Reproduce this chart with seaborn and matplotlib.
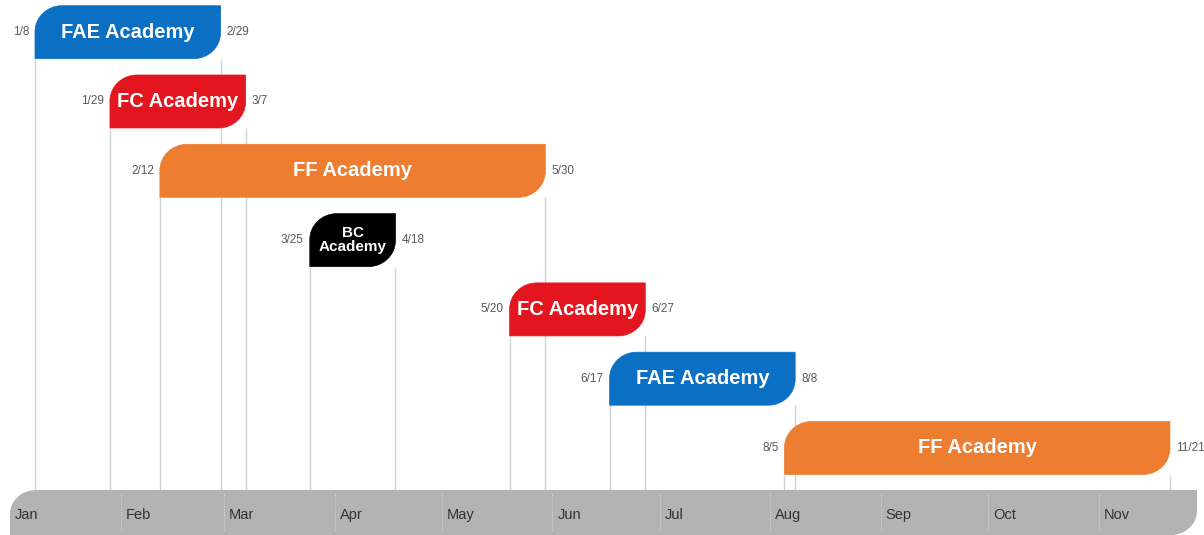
import datetime as dt
import numpy as np
import pandas as pd
import matplotlib
matplotlib.use("Agg")
import matplotlib.pyplot as plt
import seaborn as sns
from matplotlib.path import Path
from matplotlib.patches import PathPatch

# ---------------- data ----------------
programs = ["FAE Academy", "FC Academy", "FF Academy", "BC\nAcademy",
            "FC Academy", "FAE Academy", "FF Academy"]
program_kind = ["FAE", "FC", "FF", "BC", "FC", "FAE", "FF"]
start_dates = ["1/8", "1/29", "2/12", "3/25", "5/20", "6/17", "8/5"]
end_dates = ["2/29", "3/7", "5/30", "4/18", "6/27", "8/8", "11/21"]
kind_colors = {"FAE": "#0b6fc3", "FC": "#e3151f", "FF": "#ed7d31", "BC": "#000000"}
months = ["Jan", "Feb", "Mar", "Apr", "May", "Jun", "Jul", "Aug", "Sep", "Oct", "Nov"]
YEAR = 2024

# ---------------- style ----------------
sns.set_theme(style="white")
plt.rcParams["font.family"] = ["Liberation Sans", "DejaVu Sans"]


def doy(s):
    m, d = map(int, s.split("/"))
    return (dt.date(YEAR, m, d) - dt.date(YEAR, 1, 1)).days


starts = np.array([doy(s) for s in start_dates], dtype=float)
ends = np.array([doy(s) for s in end_dates], dtype=float)
df = pd.DataFrame({"row": np.arange(len(programs)), "end": ends})

W, H = 1204, 535
fig = plt.figure(figsize=(W / 100, H / 100), dpi=100)
ax = fig.add_axes([0, 0, 1, 1])

PX_DAY = 3.569   # pixels per day
X0 = 10          # pixel of Jan 1
ROW0, ROW_STEP = 32.2, 69.3
BAR_H = 53 / ROW_STEP


def ypx(p):
    return (p - ROW0) / ROW_STEP


def dxp(px):
    return px / PX_DAY


def dyp(px):
    return px / ROW_STEP


KAPPA = 0.5523


def leaf(xl, xr, yt, yb, rx, ry):
    # yt = visually upper edge (smaller value on the inverted y axis)
    verts = [(xl, yb), (xl, yt + ry),
             (xl, yt + ry * (1 - KAPPA)), (xl + rx * (1 - KAPPA), yt), (xl + rx, yt),
             (xr, yt), (xr, yb - ry),
             (xr, yb - ry * (1 - KAPPA)), (xr - rx * (1 - KAPPA), yb), (xr - rx, yb),
             (xl, yb), (xl, yb)]
    codes = [Path.MOVETO, Path.LINETO,
             Path.CURVE4, Path.CURVE4, Path.CURVE4,
             Path.LINETO, Path.LINETO,
             Path.CURVE4, Path.CURVE4, Path.CURVE4,
             Path.LINETO, Path.CLOSEPOLY]
    return Path(verts, codes)


# bars via seaborn (horizontal), then reshaped into leaf shapes
sns.barplot(data=df, x="end", y="row", orient="y", width=BAR_H,
            errorbar=None, color="#888888", saturation=1, ax=ax)

ax.set_xlim(-X0 / PX_DAY, (W - X0) / PX_DAY)
ax.set_ylim(ypx(H), ypx(0))

band_top = ypx(490)
band_bot = ypx(535)

bars = list(ax.patches)
for i, p in enumerate(bars):
    x_right = p.get_x() + p.get_width()
    x_left = starts[i]
    y_top = p.get_y()
    y_bot = p.get_y() + p.get_height()
    p.set_visible(False)
    col = kind_colors[program_kind[i]]
    shape = PathPatch(leaf(x_left, x_right, y_top, y_bot, dxp(27), dyp(26)),
                      facecolor=col, edgecolor=col, lw=0.5, zorder=3)
    ax.add_patch(shape)
    ax.vlines([x_left, x_right], y_bot, band_top, color="#d2d2d2", lw=1.0, zorder=1)
    yc = (y_top + y_bot) / 2
    if "\n" in programs[i]:
        ax.text((x_left + x_right) / 2, yc, programs[i], color="white", fontsize=11,
                fontweight="bold", ha="center", va="center", linespacing=0.95, zorder=4)
    else:
        ax.text((x_left + x_right) / 2, yc, programs[i], color="white", fontsize=14.5,
                fontweight="bold", ha="center", va="center", zorder=4)
    ax.text(x_left - dxp(6), yc, start_dates[i], color="#5a5a5a", fontsize=8.5,
            ha="right", va="center", zorder=4)
    ax.text(x_right + dxp(6), yc, end_dates[i], color="#5a5a5a", fontsize=8.5,
            ha="left", va="center", zorder=4)

# timeline band
band_x1 = (1197 - X0) / PX_DAY
ax.add_patch(PathPatch(leaf(0, band_x1, band_top, band_bot, dxp(26), dyp(24)),
                       facecolor="#b3b3b3", edgecolor="none", zorder=2))
month_starts = [(dt.date(YEAR, m + 1, 1) - dt.date(YEAR, 1, 1)).days for m in range(len(months))]
for m, (name, ms) in enumerate(zip(months, month_starts)):
    if m > 0:
        ax.vlines(ms, ypx(494), ypx(532), color="#d2d2d2", lw=0.7,
                  linestyles=(0, (1.5, 1.5)), zorder=2.5)
    ax.text(ms + dxp(5), ypx(515), name, color="#333333", fontsize=10.5,
            ha="left", va="center", zorder=4)

ax.axis("off")

fig.savefig("out.png", dpi=100)
